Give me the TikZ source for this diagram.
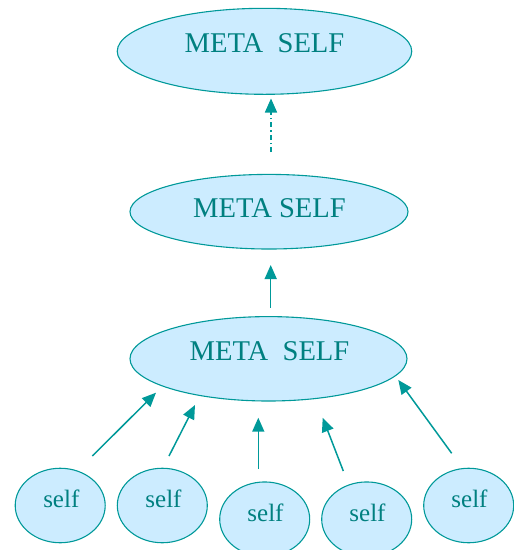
\documentclass[tikz,border=0pt]{standalone}
\usepackage{fontspec}
\setmainfont{Liberation Serif}
\usetikzlibrary{shapes.geometric,arrows.meta}

\definecolor{bubblefill}{RGB}{204,236,255}
\definecolor{bubbleline}{RGB}{0,153,153}
\definecolor{bubbletext}{RGB}{0,128,128}

\tikzset{
  bubble/.style={ellipse, draw=bubbleline, fill=bubblefill, line width=1.1pt, inner sep=0pt},
  metabubble/.style={bubble},
  selfbubble/.style={bubble, minimum width=90pt, minimum height=74.5pt},
  metatext/.style={text=bubbletext, font=\fontsize{28.6}{32}\selectfont, inner sep=0pt},
  selftext/.style={text=bubbletext, font=\fontsize{25}{28}\selectfont, inner sep=0pt},
  link/.style={draw=bubbleline, line width=1.5pt, -{Triangle[width=12pt,length=14pt]}},
  dashlink/.style={link, dash pattern=on 5pt off 3pt on 1.5pt off 3pt}
}

\begin{document}
\begin{tikzpicture}[x=1pt,y=-1pt]
\useasboundingbox (0,0) rectangle (514,550);

% three stacked meta-level bubbles
\node[metabubble, minimum width=294.5pt, minimum height=86pt] (top) at (264.5,51.3) {};
\node[metatext] (toplabel) at (264.5,43.6) {META\ \ SELF};

\node[metabubble, minimum width=278pt, minimum height=74.6pt] (mid) at (269,211.7) {};
\node[metatext] (midlabel) at (269.5,208.2) {META SELF};

\node[metabubble, minimum width=277pt, minimum height=84.4pt] (base) at (268.5,358.8) {};
\node[metatext] (baselabel) at (269.5,351) {META\ \ SELF};

% row of individual selves
\node[selfbubble] (s1) at (60.2,505.5) {};
\node[selftext] (s1label) at (61.3,499.1) {self};
\node[selfbubble] (s2) at (162.3,505.5) {};
\node[selftext] (s2label) at (163.5,499.1) {self};
\node[selfbubble] (s3) at (264.7,519.2) {};
\node[selftext] (s3label) at (265.5,513) {self};
\node[selfbubble] (s4) at (366.7,519.2) {};
\node[selftext] (s4label) at (367.5,513) {self};
\node[selfbubble] (s5) at (468.7,505.5) {};
\node[selftext] (s5label) at (469.5,499.1) {self};

% free ends of the connectors
\coordinate (d0) at (271,152);   \coordinate (d1) at (271,98.5);
\coordinate (u0) at (270.7,307.5); \coordinate (u1) at (270.7,265);
\coordinate (a0) at (92.3,456);  \coordinate (a1) at (156,392.7);
\coordinate (b0) at (169,456);   \coordinate (b1) at (195,405);
\coordinate (c0) at (258.3,469); \coordinate (c1) at (258.3,417.7);
\coordinate (e0) at (343.3,471); \coordinate (e1) at (322.7,417.7);
\coordinate (f0) at (451.7,453.3); \coordinate (f1) at (398.3,380);

% connectors
\draw[dashlink] (d0) -- (d1);
\draw[link] (u0) -- (u1);
\draw[link] (a0) -- (a1);
\draw[link] (b0) -- (b1);
\draw[link] (c0) -- (c1);
\draw[link] (e0) -- (e1);
\draw[link] (f0) -- (f1);
\end{tikzpicture}
\end{document}
